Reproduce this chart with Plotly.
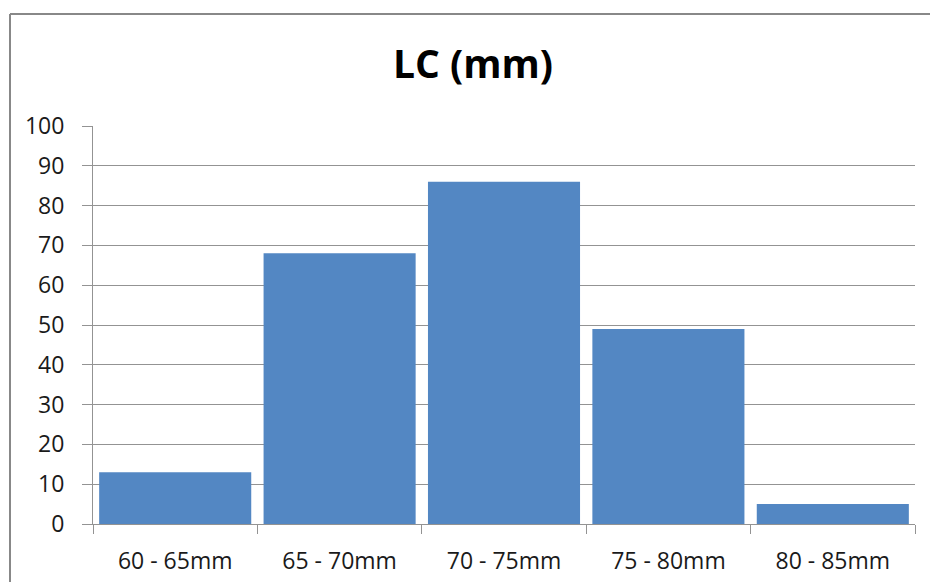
import plotly.graph_objects as go

# Length classes and counts
categories = ["60 - 65mm", "65 - 70mm", "70 - 75mm", "75 - 80mm", "80 - 85mm"]
counts = [13, 68, 86, 49, 5]
y_ticks = [0, 10, 20, 30, 40, 50, 60, 70, 80, 90, 100]

W, H = 930, 582
L, R, T, B = 93, 15, 126, 58
pw, ph = W - L - R, H - T - B

def px_x(x):
    return (x - L) / pw

def px_y(y):
    return (H - B - y) / ph

fig = go.Figure(
    go.Bar(
        x=categories,
        y=counts,
        marker=dict(color="#5387c3", line=dict(width=0)),
        hoverinfo="x+y",
    )
)

grid_col = "#939393"
font_family = "Open Sans, Liberation Sans, sans-serif"

fig.update_layout(
    width=W,
    height=H,
    margin=dict(l=L, r=R, t=T, b=B),
    paper_bgcolor="white",
    plot_bgcolor="white",
    bargap=0.075,
    showlegend=False,
    title=dict(
        text="<b>LC (mm)</b>",
        x=473 / W,
        xanchor="center",
        y=1 - 64 / H,
        yanchor="middle",
        font=dict(family=font_family, size=39, color="black"),
    ),
    xaxis=dict(
        type="category",
        automargin=False,
        showgrid=False,
        showline=True,
        linecolor=grid_col,
        linewidth=1,
        ticks="outside",
        tickson="boundaries",
        ticklen=9,
        tickcolor=grid_col,
        tickfont=dict(family=font_family, size=23, color="#1a1a1a"),
        ticklabelstandoff=16,
        fixedrange=True,
    ),
    yaxis=dict(
        range=[0, 100],
        automargin=False,
        tickvals=y_ticks,
        showgrid=True,
        gridcolor=grid_col,
        gridwidth=1,
        showline=True,
        linecolor=grid_col,
        linewidth=1,
        ticks="outside",
        ticklen=10,
        tickcolor=grid_col,
        tickfont=dict(family=font_family, size=23, color="#1a1a1a"),
        ticklabelstandoff=13,
        zeroline=False,
        fixedrange=True,
    ),
    shapes=[
        # chart-area border (top and left edges)
        dict(type="line", xref="paper", yref="paper",
             x0=px_x(10), x1=px_x(W + 5), y0=px_y(14), y1=px_y(14),
             line=dict(color="#888888", width=2)),
        dict(type="line", xref="paper", yref="paper",
             x0=px_x(10), x1=px_x(10), y0=px_y(14), y1=px_y(H + 5),
             line=dict(color="#888888", width=2)),
    ],
)

fig.write_html("out.html")
